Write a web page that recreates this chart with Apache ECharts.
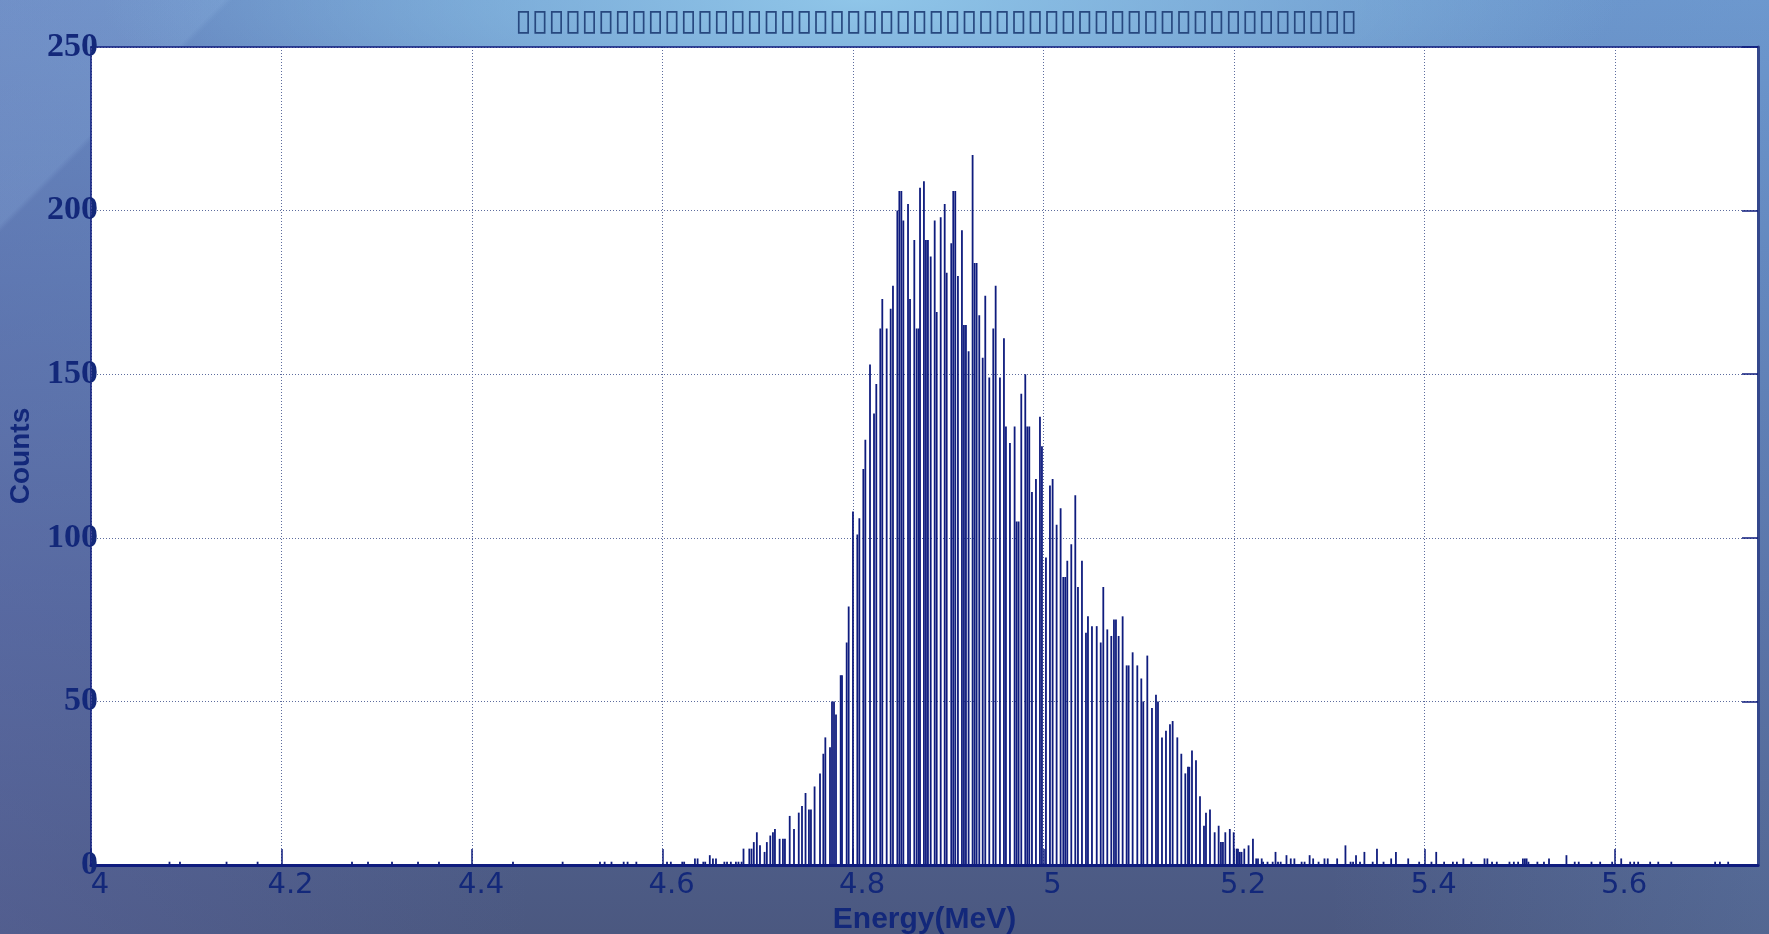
<!DOCTYPE html>
<html>
<head>
<meta charset="utf-8">
<script src="https://cdn.jsdelivr.net/npm/echarts@6/dist/echarts.min.js"></script>
<style>
html,body{margin:0;padding:0;width:1769px;height:934px;overflow:hidden;}
body{
  background:
    radial-gradient(ellipse 760px 170px at 860px 0px, rgba(145,200,234,0.95), rgba(145,200,234,0) 100%),
    linear-gradient(135deg, rgba(150,185,230,0.22) 0%, rgba(150,185,230,0.22) 8.3%, rgba(0,0,0,0) 8.6%),
    linear-gradient(to right, rgba(95,105,170,0.35) 0%, rgba(95,105,170,0) 30%, rgba(0,0,0,0) 75%, rgba(120,170,225,0.18) 100%),
    linear-gradient(to bottom, #6a94ca 0%, #5f80b6 30%, #54699c 65%, #4b5880 100%);
}
#chart{width:1769px;height:934px;}
</style>
</head>
<body>
<div id="chart"></div>
<script>
// ---- data ----
const titleText = '▯▯▯▯▯▯▯▯▯▯▯▯▯▯▯▯▯▯▯▯▯▯▯▯▯▯▯▯▯▯▯▯▯▯▯▯▯▯▯▯▯▯▯▯▯▯▯▯▯▯▯';
const xName = 'Energy(MeV)';
const yName = 'Counts';
const xTicks = [4, 4.2, 4.4, 4.6, 4.8, 5, 5.2, 5.4, 5.6];
const yTicks = [0, 50, 100, 150, 200, 250];

const energy = [
  4.0824,4.0934,4.1423,4.1749,4.2740,4.2908,4.3160,4.3433,4.3653,4.4430,4.4951,
  4.5343,4.5392,4.5464,4.5592,4.5633,4.5725,4.6047,4.6087,4.6207,4.6227,4.6340,4.6368,
  4.6428,4.6448,4.6496,4.6529,4.6561,4.6649,4.6677,4.6717,4.6770,4.6797,4.6830,4.6850,
  4.6911,4.6934,4.6958,4.6990,4.7023,4.7071,4.7095,4.7131,4.7159,4.7180,4.7229,4.7264,
  4.7285,4.7335,4.7380,4.7430,4.7464,4.7501,4.7537,4.7558,4.7596,
  4.7653,4.7688,4.7709,4.7758,4.7779,4.7800,4.7821,4.7870,4.7884,4.7933,4.7954,4.7999,
  4.8045,4.8066,4.8108,4.8129,4.8178,4.8220,4.8244,4.8286,4.8307,4.8353,4.8395,4.8419,
  4.8465,4.8486,4.8507,4.8528,4.8577,4.8598,4.8643,4.8668,4.8689,
  4.8703,4.8744,4.8765,4.8786,4.8815,4.8857,4.8878,4.8920,4.8962,4.8983,4.9031,4.9052,
  4.9073,4.9101,4.9143,4.9164,4.9185,4.9213,4.9255,4.9276,4.9297,4.9325,4.9361,4.9388,
  4.9430,4.9472,4.9497,4.9542,4.9584,4.9605,4.9647,4.9696,4.9717,4.9738,
  4.9766,4.9808,4.9829,4.9850,4.9878,4.9920,4.9962,4.9983,5.0025,5.0067,5.0095,5.0137,
  5.0179,5.0207,5.0228,5.0249,5.0291,5.0333,5.0361,5.0403,5.0445,5.0466,5.0508,5.0558,
  5.0600,5.0627,5.0669,5.0711,5.0739,5.0760,5.0788,
  5.0830,5.0872,5.0893,5.0935,5.0984,5.1026,5.1047,5.1089,5.1138,5.1180,5.1201,5.1243,
  5.1285,5.1327,5.1355,5.1404,5.1446,5.1488,5.1516,5.1530,5.1558,5.1600,5.1642,5.1684,
  5.1705,5.1747,5.1796,5.1838,
  5.1862,5.1883,5.1908,5.1955,5.1996,5.2027,5.2041,5.2060,5.2078,5.2107,5.2152,5.2198,
  5.2232,5.2251,5.2290,5.2305,5.2351,5.2405,5.2435,5.2461,5.2489,5.2550,5.2595,5.2633,
  5.2709,5.2740,5.2793,5.2830,5.2887,5.2949,5.2983,5.3082,5.3169,5.3223,5.3249,5.3280,
  5.3322,5.3368,5.3455,5.3500,5.3569,5.3649,5.3699,5.3828,5.3943,5.4072,5.4122,5.4205,
  5.4297,5.4339,5.4407,5.4491,5.4629,5.4659,5.4708,5.4758,5.4891,5.4937,5.4982,5.5032,
  5.5053,5.5071,5.5090,5.5184,5.5253,5.5306,5.5489,5.5576,5.5618,5.5752,5.5843,5.5969,
  5.6064,5.6158,5.6200,5.6242,5.6368,5.6453,5.6590,5.7050,5.7100,5.7187
];
const counts = [
  1,1,1,1,1,1,1,1,1,1,1,
  1,1,1,1,1,1,1,1,1,1,2,2,
  1,1,3,2,2,1,1,1,1,1,1,5,
  5,5,7,10,6,4,7,9,10,11,8,8,
  8,15,11,16,18,22,17,17,24,
  28,34,39,36,50,50,46,58,58,68,79,108,
  101,106,121,130,153,138,147,164,173,164,170,177,
  200,206,206,197,202,173,191,164,164,
  207,209,191,191,186,197,169,198,202,181,190,206,
  206,180,194,165,165,157,217,184,184,168,155,174,
  149,164,177,149,161,134,129,134,105,105,
  144,150,134,134,114,118,137,128,94,116,118,104,
  109,88,88,93,98,113,85,93,71,76,73,73,
  68,85,72,70,75,75,70,
  76,61,61,65,61,57,50,64,48,52,50,39,
  41,43,44,39,34,28,30,30,35,32,21,12,
  16,17,10,12,
  7,7,10,11,10,5,5,4,4,5,6,8,
  2,2,2,1,1,1,4,1,1,3,2,2,
  1,1,3,2,1,2,2,2,6,1,1,3,
  1,4,1,5,1,2,4,2,1,1,4,1,
  1,1,2,1,2,2,1,1,1,1,1,2,
  2,2,1,1,1,2,3,1,1,1,1,1,
  2,1,1,1,1,1,1,1,1,1
];

const NAVY = '#0f1c7e';
const TXT = '#13287a';
const GRIDC = '#5d6c9e';

const chart = echarts.init(document.getElementById('chart'), null, {renderer: 'canvas'});
const fmtX = v => {
  const r = Math.round(v * 10) / 10;
  return xTicks.some(t => Math.abs(t - r) < 1e-6) ? String(r) : '';
};
chart.setOption({
  backgroundColor: 'transparent',
  animation: false,
  title: {
    text: titleText,
    left: 510,
    top: 2,
    textStyle: {fontFamily: 'DejaVu Sans', fontSize: 30, fontWeight: 'normal', color: '#27487f'}
  },
  grid: {left: 91, right: 11, top: 47, bottom: 69, show: true, backgroundColor: '#ffffff', borderWidth: 0,
    containLabel: false, outerBoundsMode: 'none'},
  xAxis: [{
    type: 'value', min: 4, max: 5.75, interval: 0.2, position: 'bottom',
    name: xName, nameLocation: 'middle', nameGap: 40,
    nameTextStyle: {fontFamily: 'Liberation Sans', fontSize: 30, fontWeight: 'bold', color: TXT},
    axisLine: {show: true, onZero: false, lineStyle: {color: NAVY, width: 3}},
    axisTick: {show: true, inside: true, length: 16, lineStyle: {color: NAVY, width: 1.5}},
    axisLabel: {show: true, fontFamily: 'DejaVu Sans', fontSize: 29, color: TXT, margin: 6,
      padding: [0, 0, 0, 18], formatter: fmtX, showMaxLabel: false},
    splitLine: {show: true, lineStyle: {color: GRIDC, width: 1, type: [1, 2]}}
  }, {
    type: 'value', position: 'top', min: 4, max: 5.75, interval: 0.2,
    axisLine: {show: true, onZero: false, lineStyle: {color: NAVY, width: 1.5}},
    axisTick: {show: false},
    axisLabel: {show: false}, splitLine: {show: false}
  }],
  yAxis: [{
    type: 'value', min: 0, max: 250, interval: 50, position: 'left',
    name: yName, nameLocation: 'middle', nameGap: 56, nameRotate: 90,
    nameTextStyle: {fontFamily: 'Liberation Sans', fontSize: 28, fontWeight: 'bold', color: TXT},
    axisLine: {show: true, onZero: false, lineStyle: {color: NAVY, width: 1.5}},
    axisTick: {show: false},
    axisLabel: {show: true, fontFamily: 'Liberation Serif', fontSize: 34, fontWeight: 'bold', color: TXT,
      margin: -7, padding: [0, 0, 10, 0]},
    splitLine: {show: true, lineStyle: {color: GRIDC, width: 1, type: [1, 2]}}
  }, {
    type: 'value', position: 'right', min: 0, max: 250, interval: 50,
    axisLine: {show: true, onZero: false, lineStyle: {color: '#34488c', width: 3}},
    axisTick: {show: true, inside: true, length: 16, lineStyle: {color: NAVY, width: 1.5}},
    axisLabel: {show: false}, splitLine: {show: false}
  }],
  series: [{
    type: 'bar',
    xAxisIndex: 0, yAxisIndex: 0,
    barWidth: 1.8,
    itemStyle: {color: NAVY},
    data: energy.map((e, i) => [e, counts[i]])
  }]
});
</script>
</body>
</html>
